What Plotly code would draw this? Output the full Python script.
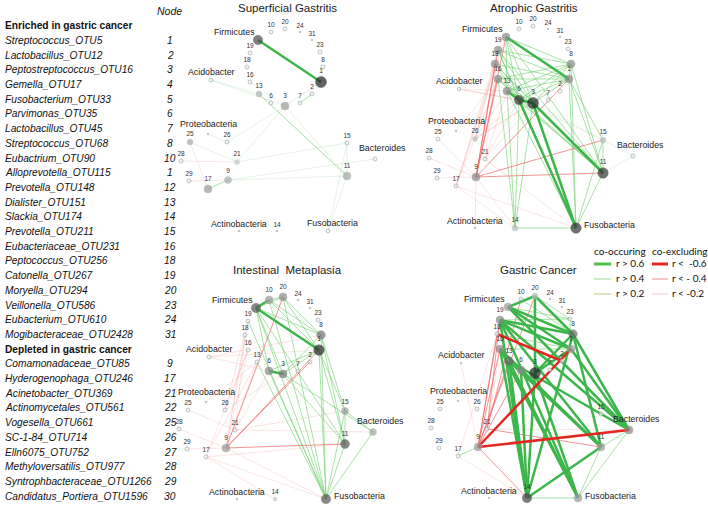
import plotly.graph_objects as go

W, H = 708, 510

# ---------------- taxa list ----------------
enriched_taxa = ["Streptococcus_OTU5", "Lactobacillus_OTU12", "Peptostreptococcus_OTU16", "Gemella_OTU17",
                 "Fusobacterium_OTU33", "Parvimonas_OTU35", "Lactobacillus_OTU45", "Streptococcus_OTU68",
                 "Eubactrium_OTU90", "Alloprevotella_OTU115", "Prevotella_OTU148", "Dialister_OTU151",
                 "Slackia_OTU174", "Prevotella_OTU211", "Eubacteriaceae_OTU231", "Peptococcus_OTU256",
                 "Catonella_OTU267", "Moryella_OTU294", "Veillonella_OTU586", "Eubacterium_OTU610",
                 "Mogibacteraceae_OTU2428"]
enriched_nodes = ["1", "2", "3", "4", "5", "6", "7", "8", "10", "1", "12", "13", "14", "15", "16", "18",
                  "19", "20", "23", "24", "31"]
depleted_taxa = ["Comamonadaceae_OTU85", "Hyderogenophaga_OTU246", "Acinetobacter_OTU369",
                 "Actinomycetales_OTU561", "Vogesella_OTU661", "SC-1-84_OTU714", "Elln6075_OTU752",
                 "Methyloversatilis_OTU977", "Syntrophbacteraceae_OTU1266", "Candidatus_Portiera_OTU1596"]
depleted_nodes = ["9", "17", "21", "22", "25", "26", "27", "28", "29", "30"]

panel_titles = ["Superficial Gastritis", "Atrophic Gastritis", "Intestinal  Metaplasia", "Gastric Cancer"]

# ---------------- network layout (shared) ----------------
phyla = ["Firmicutes", "Acidobacter", "Proteobacteria", "Bacteroides", "Actinobacteria", "Fusobacteria"]
node_names = phyla + ["1", "2", "3", "6", "7", "8", "9", "10", "11", "13", "14", "15", "16", "17", "18",
                      "19", "20", "21", "23", "24", "25", "26", "28", "29", "31"]
node_x = [258, 211, 208, 375, 239, 328,
          321, 312, 285, 271, 300, 323, 228, 271, 347, 259, 277, 347, 250, 208, 247,
          250, 285, 237, 320, 300, 190, 227, 181, 189, 312]
node_y = [40, 80, 134, 159, 231, 231,
          82, 94, 106, 103, 103, 67, 180, 32, 176, 94, 231, 143, 82, 189, 67,
          53, 29, 162, 52, 32, 142, 142, 161, 181, 40]

# ---------------- edges: (node a, node b, correlation r) ----------------
sg_edges = [
    ("Firmicutes", "1", 0.72), ("13", "11", 0.45), ("17", "9", 0.45), ("2", "7", 0.42),
    ("9", "11", 0.25), ("21", "15", 0.25), ("21", "3", 0.25), ("Acidobacter", "3", 0.22),
    ("Acidobacter", "13", 0.22), ("26", "3", 0.22), ("Proteobacteria", "26", 0.22), ("25", "21", 0.22),
    ("11", "Fusobacteria", 0.25), ("15", "11", 0.25), ("15", "Fusobacteria", 0.22), ("3", "11", 0.22),
    ("1", "3", 0.22), ("16", "3", 0.22), ("9", "Bacteroides", 0.22), ("28", "21", -0.22),
    ("25", "17", -0.22), ("29", "9", -0.22), ("8", "1", 0.25),
]

ag_edges = [
    ("Firmicutes", "1", 0.68), ("6", "3", 0.70), ("13", "6", 0.62), ("6", "Fusobacteria", 0.66),
    ("3", "Fusobacteria", 0.66), ("3", "11", 0.62), ("6", "11", 0.55),
    ("Firmicutes", "8", 0.45), ("Firmicutes", "3", 0.45), ("Firmicutes", "6", 0.45), ("Firmicutes", "13", 0.45),
    ("Firmicutes", "11", 0.45), ("19", "3", 0.45), ("19", "6", 0.45), ("19", "1", 0.45), ("19", "8", 0.45),
    ("19", "11", 0.45), ("18", "3", 0.45), ("18", "6", 0.45), ("18", "1", 0.45), ("18", "11", 0.45),
    ("16", "3", 0.45), ("16", "6", 0.45), ("16", "1", 0.45), ("16", "11", 0.45), ("16", "14", 0.45),
    ("13", "3", 0.45), ("13", "1", 0.45), ("13", "11", 0.45), ("13", "14", 0.45), ("13", "Fusobacteria", 0.45),
    ("6", "14", 0.45), ("3", "14", 0.45), ("8", "3", 0.45), ("8", "6", 0.45), ("8", "13", 0.45),
    ("8", "11", 0.45), ("8", "Fusobacteria", 0.45), ("8", "1", 0.45), ("1", "3", 0.45), ("1", "6", 0.45),
    ("1", "11", 0.45), ("1", "Fusobacteria", 0.45), ("1", "15", 0.45), ("15", "11", 0.45),
    ("11", "Fusobacteria", 0.45), ("14", "Fusobacteria", 0.45), ("15", "Fusobacteria", 0.45),
    ("19", "Fusobacteria", 0.45), ("8", "16", 0.45),
    ("Firmicutes", "9", -0.45), ("19", "9", -0.45), ("18", "9", -0.5), ("16", "9", -0.45), ("1", "9", -0.45),
    ("9", "15", -0.45), ("9", "11", -0.45),
    ("26", "19", -0.25), ("26", "18", -0.25), ("26", "16", -0.25), ("26", "13", -0.25), ("21", "19", -0.25),
    ("21", "13", -0.25), ("21", "6", -0.25), ("17", "18", -0.25), ("17", "16", -0.25), ("17", "19", -0.25),
    ("26", "3", -0.25), ("21", "3", -0.25), ("17", "Firmicutes", -0.25), ("Acidobacter", "6", -0.25),
    ("Acidobacter", "3", -0.25), ("Acidobacter", "13", -0.25), ("26", "1", -0.25), ("9", "14", -0.25),
    ("17", "14", -0.25), ("9", "Actinobacteria", -0.25), ("17", "Fusobacteria", -0.25),
    ("21", "Fusobacteria", -0.25), ("25", "9", -0.25), ("28", "9", -0.25), ("29", "9", -0.25),
    ("Proteobacteria", "16", -0.25), ("26", "6", -0.25),
    ("Bacteroides", "11", 0.25), ("Bacteroides", "15", 0.25), ("3", "15", 0.25), ("6", "15", 0.25),
]

im_edges = [
    ("Firmicutes", "10", 0.70), ("Firmicutes", "1", 0.70), ("6", "3", 0.62),
    ("10", "20", 0.55), ("Firmicutes", "8", 0.45), ("Firmicutes", "20", 0.45), ("10", "8", 0.45),
    ("10", "1", 0.45), ("20", "8", 0.45), ("20", "1", 0.45), ("Firmicutes", "3", 0.45),
    ("Firmicutes", "6", 0.45), ("Firmicutes", "Fusobacteria", 0.5), ("Firmicutes", "11", 0.45),
    ("10", "Fusobacteria", 0.45), ("20", "Fusobacteria", 0.45), ("8", "Fusobacteria", 0.45),
    ("1", "Fusobacteria", 0.5), ("1", "11", 0.45), ("8", "11", 0.45), ("1", "6", 0.45), ("1", "3", 0.45),
    ("8", "3", 0.45), ("3", "Bacteroides", 0.45), ("15", "Bacteroides", 0.5), ("15", "11", 0.45),
    ("15", "Fusobacteria", 0.45), ("11", "Fusobacteria", 0.45), ("Bacteroides", "Fusobacteria", 0.45),
    ("13", "Fusobacteria", 0.45), ("3", "11", 0.45), ("6", "Fusobacteria", 0.45), ("1", "15", 0.45),
    ("8", "15", 0.45), ("19", "Fusobacteria", 0.45),
    ("20", "9", -0.45), ("1", "9", -0.45), ("2", "9", -0.42), ("9", "11", -0.45),
    ("9", "19", -0.25), ("9", "18", -0.25), ("9", "16", -0.25), ("9", "13", -0.25), ("26", "19", -0.25),
    ("26", "16", -0.25), ("21", "18", -0.25), ("21", "6", -0.25), ("17", "13", -0.25), ("17", "16", -0.25),
    ("Acidobacter", "1", -0.25), ("Acidobacter", "3", -0.25), ("Acidobacter", "8", -0.25), ("26", "3", -0.25),
    ("21", "15", -0.25), ("21", "Bacteroides", -0.25), ("17", "11", -0.25), ("17", "Fusobacteria", -0.25),
    ("9", "Fusobacteria", -0.25), ("Proteobacteria", "13", -0.25), ("28", "9", -0.25), ("29", "9", -0.25),
    ("25", "21", -0.25), ("17", "14", -0.25),
]

gc_edges = [
    ("Firmicutes", "20", 0.62), ("Firmicutes", "8", 0.70), ("Firmicutes", "1", 0.65), ("19", "8", 0.70),
    ("19", "1", 0.65), ("19", "Bacteroides", 0.70), ("19", "11", 0.65), ("19", "14", 0.70),
    ("19", "Fusobacteria", 0.65), ("16", "14", 0.70), ("16", "Fusobacteria", 0.70), ("16", "11", 0.65),
    ("13", "14", 0.70), ("13", "Fusobacteria", 0.70), ("13", "11", 0.65), ("13", "Bacteroides", 0.62),
    ("6", "14", 0.65), ("3", "14", 0.62), ("3", "8", 0.70), ("3", "1", 0.65), ("20", "3", 0.65),
    ("20", "8", 0.62), ("8", "Bacteroides", 0.70), ("8", "14", 0.65), ("1", "Bacteroides", 0.62),
    ("11", "14", 0.65), ("3", "Fusobacteria", 0.65), ("Firmicutes", "Bacteroides", 0.65), ("8", "11", 0.62),
    ("9", "Bacteroides", -0.72), ("9", "1", -0.70), ("18", "2", -0.68),
    ("9", "19", -0.45), ("9", "16", -0.45), ("9", "18", -0.45), ("9", "13", -0.45), ("9", "14", -0.45),
    ("21", "11", -0.45), ("21", "10", -0.45), ("9", "20", -0.45), ("21", "19", -0.45), ("9", "6", -0.45),
    ("9", "17", 0.45), ("Bacteroides", "11", 0.45), ("11", "Fusobacteria", 0.45), ("14", "Fusobacteria", 0.45),
    ("Bacteroides", "Fusobacteria", 0.42), ("Firmicutes", "23", 0.45), ("20", "23", 0.45), ("10", "8", 0.45),
    ("19", "23", 0.45), ("23", "1", 0.45), ("16", "1", 0.45), ("18", "1", 0.45), ("15", "Bacteroides", 0.42),
    ("17", "18", -0.25), ("21", "16", -0.25), ("26", "13", -0.25), ("21", "Bacteroides", -0.25),
    ("Acidobacter", "9", -0.25), ("17", "14", -0.25),
]
panel_edges = [sg_edges, ag_edges, im_edges, gc_edges]

# ---------------- node styles per panel: size, fill ('h' hollow, 't' tiny) ----------------
sg_nodes = {"Firmicutes": (9.5, "#4a4a4a"), "1": (11, "#222222"), "3": (8, "#9a9a9a"), "13": (6, "#aab0b0"),
            "11": (8, "#a0a6a6"), "9": (7, "#a5aaaa"), "17": (8, "#9a9a9a"), "25": (6, "#a5aaaa"),
            "21": (5, "#c0c6c6"), "24": (2.5, "t"), "31": (2.5, "t"), "Proteobacteria": (2.5, "t"),
            "Actinobacteria": (2.5, "t"), "14": (2.5, "t")}
ag_nodes = {"Firmicutes": (8, "#8a8a8a"), "19": (8, "#8a8a8a"), "18": (8, "#8a8a8a"), "16": (8, "#8a8a8a"),
            "13": (8, "#8a8a8a"), "6": (9.5, "#333333"), "3": (11, "#222222"), "8": (8, "#8a8a8a"),
            "1": (8, "#8a8a8a"), "26": (5, "#b8bdbd"), "9": (8, "#8a8a8a"), "15": (6, "#b8bdbd"),
            "11": (10.5, "#333333"), "14": (6, "#b8bdbd"), "Fusobacteria": (10.5, "#333333"),
            "24": (2.5, "t"), "31": (2.5, "t"), "Proteobacteria": (2.5, "t"), "Actinobacteria": (2.5, "t"),
            "Acidobacter": (3.5, "h")}
im_nodes = {"Firmicutes": (9.5, "#555555"), "10": (8, "#999999"), "20": (8, "#8a8a8a"), "8": (8.5, "#707070"),
            "1": (10.5, "#262626"), "3": (8, "#777777"), "6": (8, "#888888"), "9": (8, "#999999"),
            "15": (7, "#9a9a9a"), "Bacteroides": (7, "#a5a5a5"), "11": (9, "#555555"),
            "Fusobacteria": (9.5, "#555555"), "24": (2.5, "t"), "31": (2.5, "t"), "Proteobacteria": (2.5, "t"),
            "Actinobacteria": (2.5, "t"), "14": (4, "#c0c6c6")}
gc_nodes = {"Firmicutes": (8, "#999999"), "20": (6, "#b8bdbd"), "19": (8, "#888888"), "16": (8, "#888888"),
            "13": (8.5, "#666666"), "6": (8, "#888888"), "3": (11, "#222222"), "1": (8, "#999999"),
            "8": (8.5, "#666666"), "9": (8, "#999999"), "Bacteroides": (8, "#888888"), "11": (8, "#999999"),
            "14": (9.5, "#444444"), "Fusobacteria": (8, "#999999"), "24": (2.5, "t"), "31": (2.5, "t"),
            "Proteobacteria": (2.5, "t"), "Actinobacteria": (2.5, "t"), "Acidobacter": (2.5, "t")}
panel_nodes = [sg_nodes, ag_nodes, im_nodes, gc_nodes]

# panel placement (pixel offsets) and small per-panel layout shifts
panel_offsets = [(0, 0), (248, -3), (-2, 268), (250, 267)]
layout_shifts = [
    {},
    {"Acidobacter": (0, 12), "15": (8, 0), "11": (8, 0), "Bacteroides": (10, 0), "14": (-10, 0),
     "Actinobacteria": (-12, 0)},
    {"Acidobacter": (0, 9), "Bacteroides": (0, 5)},
    {"Acidobacter": (0, 16), "Bacteroides": (4, 4), "11": (4, 4), "15": (4, 4)},
]
# phylum label placement: (xanchor, xshift, yshift)
label_place = {"Firmicutes": ("right", -1, 8), "Acidobacter": ("center", 0, 8),
               "Proteobacteria": ("center", 0, 10), "Bacteroides": ("center", 7, 11),
               "Actinobacteria": ("center", 0, 7)}
fuso_place = [("center", 4, 8), ("left", 6, 3), ("left", 6, 3), ("left", 5, 2)]

XR = [172, 402]
YR = [12, 242]


def edge_style(r):
    a = abs(r)
    if r > 0:
        if a > 0.6:
            return 5, "rgb(60,182,75)", 2.5
        if a > 0.4:
            return 3, "rgba(115,208,115,0.7)", 0.9
        return 1, "rgba(165,212,165,0.35)", 0.8
    if a > 0.6:
        return 6, "rgb(228,38,32)", 2.5
    if a > 0.4:
        return 4, "rgba(238,105,105,0.8)", 0.9
    return 2, "rgba(242,160,160,0.35)", 0.8


fig = go.Figure()
layout_axes = {}
ann = []
for p in range(4):
    dx, dy = panel_offsets[p]
    sfx = "" if p == 0 else str(p + 1)
    layout_axes["xaxis" + sfx] = dict(domain=[(XR[0] + dx) / W, (XR[1] + dx) / W], range=XR,
                                      visible=False, fixedrange=True)
    layout_axes["yaxis" + sfx] = dict(domain=[max(0, 1 - (YR[1] + dy) / H), 1 - (YR[0] + dy) / H],
                                      range=[YR[1], YR[0]], visible=False, fixedrange=True)
    xa, ya = "x" + sfx, "y" + sfx

    pos = {}
    for n, x, y in zip(node_names, node_x, node_y):
        sx, sy = layout_shifts[p].get(n, (0, 0))
        pos[n] = (x + sx, y + sy)

    groups = {}
    for a, b, r in panel_edges[p]:
        key, col, wd = edge_style(r)
        g = groups.setdefault(key, dict(x=[], y=[], col=col, wd=wd))
        g["x"] += [pos[a][0], pos[b][0], None]
        g["y"] += [pos[a][1], pos[b][1], None]
    for key in sorted(groups):
        g = groups[key]
        fig.add_trace(go.Scatter(x=g["x"], y=g["y"], mode="lines", xaxis=xa, yaxis=ya,
                                 line=dict(color=g["col"], width=g["wd"]), hoverinfo="skip",
                                 showlegend=False))

    nx, ny, ns, nc, nl, nlw, nt = [], [], [], [], [], [], []
    for n in node_names:
        size, fill = panel_nodes[p].get(n, (4, "h"))
        nx.append(pos[n][0]); ny.append(pos[n][1]); ns.append(size)
        if fill == "h":
            nc.append("#eef2f2"); nl.append("#8e9999"); nlw.append(0.8)
        elif fill == "t":
            nc.append("#a9b0b0"); nl.append("#a9b0b0"); nlw.append(0)
        else:
            nc.append(fill); nl.append(fill); nlw.append(0.5)
        nt.append("" if n in phyla else n)
    fig.add_trace(go.Scatter(x=nx, y=ny, mode="markers+text", xaxis=xa, yaxis=ya, text=nt,
                             textposition="top center", cliponaxis=False,
                             textfont=dict(size=6.5, color="#333333", family="Liberation Sans"),
                             marker=dict(size=ns, color=nc, line=dict(color=nl, width=nlw)),
                             hoverinfo="text", showlegend=False))
    for n in phyla:
        xanc, xs, ys = fuso_place[p] if n == "Fusobacteria" else label_place[n]
        ann.append(dict(x=pos[n][0], y=pos[n][1], xref=xa, yref=ya, text=n, showarrow=False,
                        xanchor=xanc, yanchor="middle", xshift=xs, yshift=ys,
                        font=dict(size=8.8, color="#222222", family="Liberation Sans")))


def px_ann(x, y, text, size, xanchor="left", family="Liberation Sans", color="#111111"):
    ann.append(dict(x=x / W, y=1 - y / H, xref="paper", yref="paper", text=text, showarrow=False,
                    xanchor=xanchor, yanchor="middle", font=dict(size=size, family=family, color=color)))


title_pos = [(287, 8), (534, 8), (287, 270), (538, 270)]
for t, (x, y) in zip(panel_titles, title_pos):
    px_ann(x, y, t, 11.5, xanchor="center", color="#222222")

rows = [("<i>Node</i>", None, "hdr")]
rows.append(("<b>Enriched in gastric cancer</b>", None, "b"))
rows += [(f"<i>{t}</i>", n, "i") for t, n in zip(enriched_taxa, enriched_nodes)]
rows.append(("<b>Depleted in gastric cancer</b>", None, "b"))
rows += [(f"<i>{t}</i>", n, "i") for t, n in zip(depleted_taxa, depleted_nodes)]
step = 14.7
for i, (txt, num, kind) in enumerate(rows):
    y = 11 + i * step
    if kind == "hdr":
        px_ann(169, y, txt, 10.5, xanchor="center")
    else:
        px_ann(3, y, txt, 10.2)
        if num is not None:
            px_ann(170, y, f"<i>{num}</i>", 10.2, xanchor="center")

leg_font = "Lato"
px_ann(592, 251, "co-occuring", 10, family=leg_font)
px_ann(650, 251, "co-excluding", 10, family=leg_font)
shapes = []
leg_rows = [("r > 0.6", "r <  -0.6", "rgb(80,190,70)", "rgb(228,38,32)", 3),
            ("r > 0.4", "r < - 0.4", "rgb(150,220,140)", "rgb(240,140,140)", 1),
            ("r > 0.2", "r < -0.2", "rgb(190,200,130)", "rgb(248,200,200)", 1)]
for k, (tp, tn, cp, cn, wd) in enumerate(leg_rows):
    y = 264 + k * 15
    shapes.append(dict(type="line", xref="paper", yref="paper", x0=594 / W, x1=611 / W, y0=1 - y / H,
                       y1=1 - y / H, line=dict(color=cp, width=wd)))
    shapes.append(dict(type="line", xref="paper", yref="paper", x0=652 / W, x1=668 / W, y0=1 - y / H,
                       y1=1 - y / H, line=dict(color=cn, width=wd)))
    px_ann(614, y - 1, tp, 10, family=leg_font)
    px_ann(670, y - 1, tn, 10, family=leg_font)

fig.update_layout(width=W, height=H, margin=dict(l=0, r=0, t=0, b=0), paper_bgcolor="white",
                  plot_bgcolor="white", showlegend=False, annotations=ann, shapes=shapes, **layout_axes)
fig.write_html("out.html", config={"displayModeBar": False},
               post_script="document.body.style.margin='0px';")
